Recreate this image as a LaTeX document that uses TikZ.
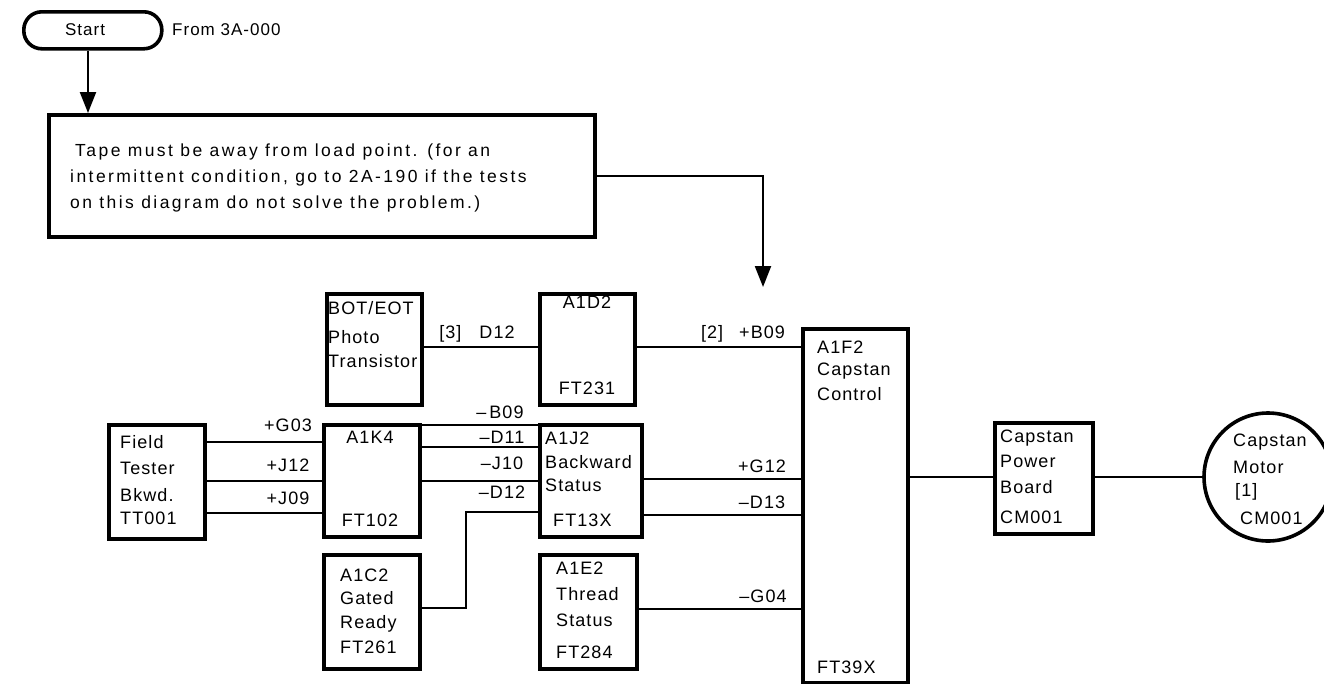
\documentclass[tikz,border=0pt]{standalone}
\usepackage{fontspec}
\setmainfont{Liberation Sans}[LetterSpace=6]
\newfontfamily\notefont{Liberation Sans}[LetterSpace=14]
\usetikzlibrary{arrows.meta}
\begin{document}
\begin{tikzpicture}[x=1pt,y=-1pt,
  box/.style={draw, line width=3.6pt, inner sep=0pt, anchor=north west},
  wire/.style={line width=2.2pt},
  arr/.style={wire, -{Triangle[length=21pt,width=16pt]}},
  t/.style={inner sep=0pt, anchor=base west, font=\fontsize{18}{20}\selectfont},
  tc/.style={inner sep=0pt, anchor=base, font=\fontsize{18}{20}\selectfont},
  nt/.style={inner sep=0pt, anchor=base west, font=\notefont\fontsize{17.5}{20}\selectfont}]
\useasboundingbox (0,0) rectangle (1324,683);

% boxes
\node[box, rounded corners=18pt, minimum width=138pt, minimum height=37pt] (start) at (22,10) {};
\node[box, minimum width=546pt, minimum height=122pt] (note) at (47,113) {};
\node[box, minimum width=95pt, minimum height=111pt] (bot) at (325,292) {};
\node[box, minimum width=95pt, minimum height=111pt] (a1d2) at (538,292) {};
\node[box, minimum width=105pt, minimum height=354pt] (a1f2) at (801,327) {};
\node[box, minimum width=96pt, minimum height=114pt] (ft) at (107,423) {};
\node[box, minimum width=96pt, minimum height=112pt] (a1k4) at (322,423) {};
\node[box, minimum width=102pt, minimum height=112pt] (a1j2) at (538,423) {};
\node[box, minimum width=96pt, minimum height=114pt] (a1c2) at (322,553) {};
\node[box, minimum width=97pt, minimum height=114pt] (a1e2) at (538,553) {};
\node[box, minimum width=98pt, minimum height=111pt] (cpb) at (993,421) {};
\node[draw, line width=3.6pt, circle, minimum size=128pt, inner sep=0pt] (motor) at (1268,477) {};

% coordinates
\coordinate (xs) at (88,0);
\coordinate (ynote) at (0,176);
\coordinate (arrtip) at (763,287);
\coordinate (y347) at (0,347);
\coordinate (y442) at (0,442);
\coordinate (y481) at (0,481);
\coordinate (y513) at (0,513);
\coordinate (y425) at (0,425);
\coordinate (y447) at (0,447);
\coordinate (y608) at (0,608);
\coordinate (d12corner) at (466,512);
\coordinate (y479) at (0,479);
\coordinate (y515) at (0,515);
\coordinate (y609) at (0,609);
\coordinate (y477) at (0,477);

% connectors
\draw[arr] (start.south -| xs) -- (note.north -| xs);
\draw[arr] (note.east |- ynote) -| (arrtip);
\draw[wire] (bot.east |- y347) -- (a1d2.west |- y347);
\draw[wire] (a1d2.east |- y347) -- (a1f2.west |- y347);
\draw[wire] (ft.east |- y442) -- (a1k4.west |- y442);
\draw[wire] (ft.east |- y481) -- (a1k4.west |- y481);
\draw[wire] (ft.east |- y513) -- (a1k4.west |- y513);
\draw[wire] (a1k4.east |- y425) -- (a1j2.west |- y425);
\draw[wire] (a1k4.east |- y447) -- (a1j2.west |- y447);
\draw[wire] (a1k4.east |- y481) -- (a1j2.west |- y481);
\draw[wire] (a1c2.east |- y608) -| (d12corner) -- (a1j2.west |- d12corner);
\draw[wire] (a1j2.east |- y479) -- (a1f2.west |- y479);
\draw[wire] (a1j2.east |- y515) -- (a1f2.west |- y515);
\draw[wire] (a1e2.east |- y609) -- (a1f2.west |- y609);
\draw[wire] (a1f2.east |- y477) -- (cpb.west |- y477);
\draw[wire] (cpb.east |- y477) -- (motor.west);

% texts
\node[tc, font=\fontsize{17}{20}\selectfont] (tstart) at (85,35) {Start};
\node[t, font=\fontsize{17}{20}\selectfont] (tfrom) at (172,35) {From 3A-000};
\node[nt] (n1) at (75,156) {Tape must be away from load point. (for an};
\node[nt] (n2) at (70,182) {intermittent condition, go to 2A-190 if the tests};
\node[nt] (n3) at (70,208) {on this diagram do not solve the problem.)};

\node[t] (b1) at (328,314) {BOT/EOT};
\node[t] (b2) at (328,343) {Photo};
\node[t] (b3) at (328,367) {Transistor};

\node[tc] (d1) at (587,308) {A1D2};
\node[tc] (d2) at (587,394) {FT231};

\node[t] (f1) at (817,353) {A1F2};
\node[t] (f2) at (817,375) {Capstan};
\node[t] (f3) at (817,400) {Control};
\node[t] (f4) at (817,673) {FT39X};

\node[t] (ft1) at (120,448) {Field};
\node[t] (ft2) at (120,474) {Tester};
\node[t] (ft3) at (120,501) {Bkwd.};
\node[t] (ft4) at (120,524) {TT001};

\node[tc] (k1) at (370,443) {A1K4};
\node[tc] (k2) at (370,526) {FT102};

\node[t] (j1) at (545,444) {A1J2};
\node[t] (j2) at (545,468) {Backward};
\node[t] (j3) at (545,491) {Status};
\node[t] (j4) at (553,526) {FT13X};

\node[t] (c1) at (340,581) {A1C2};
\node[t] (c2) at (340,604) {Gated};
\node[t] (c3) at (340,628) {Ready};
\node[t] (c4) at (340,653) {FT261};

\node[t] (e1) at (556,574) {A1E2};
\node[t] (e2) at (556,600) {Thread};
\node[t] (e3) at (556,626) {Status};
\node[t] (e4) at (556,658) {FT284};

\node[t] (p1) at (1000,442) {Capstan};
\node[t] (p2) at (1000,467) {Power};
\node[t] (p3) at (1000,493) {Board};
\node[t] (p4) at (1000,523) {CM001};

\node[t] (m1) at (1233,446) {Capstan};
\node[t] (m2) at (1233,473) {Motor};
\node[t] (m3) at (1235,496) {[1]};
\node[t] (m4) at (1240,524) {CM001};

% signal labels
\node[tc] (l1) at (477,338) {[3]\hspace{18pt}D12};
\node[tc] (l2) at (743,338) {[2]\hspace{16pt}+B09};
\node[tc] (l3) at (288,431) {+G03};
\node[tc] (l4) at (288,471) {+J12};
\node[tc] (l5) at (288,504) {+J09};
\node[tc] (l6) at (500,418) {–\hspace{3pt}B09};
\node[tc] (l7) at (502,443) {–D11};
\node[tc] (l8) at (502,469) {–J10};
\node[tc] (l9) at (502,498) {–D12};
\node[tc] (l10) at (762,472) {+G12};
\node[tc] (l11) at (762,508) {–D13};
\node[tc] (l12) at (763,602) {–G04};
\end{tikzpicture}
\end{document}
